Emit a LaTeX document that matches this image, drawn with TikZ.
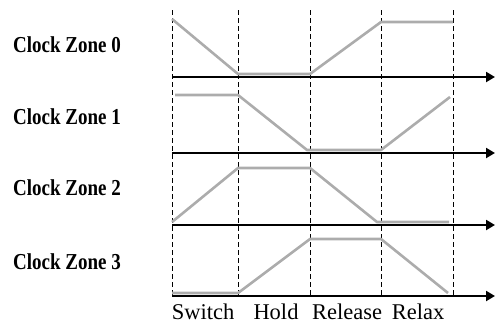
\documentclass[tikz,border=0pt]{standalone}
\usepackage{fontspec}
\setmainfont{Liberation Serif}
\usetikzlibrary{arrows.meta}
\newcommand{\tallbox}[1]{\scalebox{1}[1.2]{#1}}
\begin{document}
\begin{tikzpicture}[x=1pt,y=-1pt,
  guide/.style={black,line width=1pt,dash pattern=on 5pt off 3pt},
  axis/.style={black,line width=2pt,-{Triangle[length=9pt,width=10pt]}},
  wave/.style={gray!65,line width=2.6pt,line join=round},
  zlabel/.style={anchor=west,inner sep=0pt,font=\fontsize{19}{22}\selectfont\bfseries},
  plabel/.style={anchor=center,inner sep=0pt,font=\fontsize{22.5}{25}\selectfont}]
\useasboundingbox (0,0) rectangle (495,324);
% guides
\foreach \x/\n in {172/g0,238/g1,310/g2,381/g3,453/g4}{
  \coordinate (\n t) at (\x,10);
  \coordinate (\n b) at (\x,296);
  \draw[guide] (\n t) -- (\n b);
}
% waves
\draw[wave] (172,19) -- (238,74) -- (310,74) -- (381,22) -- (453,22);
\draw[wave] (175,95) -- (238,95) -- (307,150) -- (381,150) -- (450,97);
\draw[wave] (172,222) -- (238,168) -- (310,168) -- (377,222) -- (449,222);
\draw[wave] (172,293) -- (238,293) -- (310,239) -- (381,239) -- (448,293);
% axes
\foreach \y/\n in {77/a0,153/a1,225/a2,296/a3}{
  \coordinate (\n s) at (172,\y);
  \coordinate (\n e) at (495,\y);
  \draw[axis] (\n s) -- (\n e);
}
% labels
\node[zlabel] (z0) at (13,45) {\tallbox{Clock Zone 0}};
\node[zlabel] (z1) at (13,117) {\tallbox{Clock Zone 1}};
\node[zlabel] (z2) at (13,188) {\tallbox{Clock Zone 2}};
\node[zlabel] (z3) at (13,262) {\tallbox{Clock Zone 3}};
\node[plabel] (p0) at (203,312) {Switch};
\node[plabel] (p1) at (276,312) {Hold};
\node[plabel] (p2) at (347,312) {Release};
\node[plabel] (p3) at (418,312) {Relax};
\end{tikzpicture}
\end{document}
